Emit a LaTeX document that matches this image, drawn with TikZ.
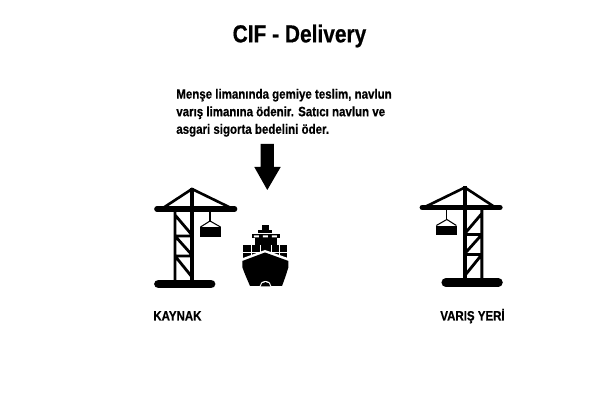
\documentclass[tikz,border=0pt]{standalone}
\usepackage{fontspec}
\setmainfont{Liberation Sans}[FakeStretch=0.85, BoldFeatures={FakeBold=0.6}]
\tikzset{
  mast/.style={line width=2.1pt},
  strut/.style={line width=1.6pt},
  stay/.style={line width=1.5pt},
  boom/.style={line width=3.2pt, line cap=round},
  foot/.style={line width=5pt, line cap=round},
  label/.style={inner sep=0pt, font=\bfseries\fontsize{7.7}{10}\selectfont}
}
\newcommand{\crane}{
  \draw[stay] (163,208)--(192,189)--(231,208);
  \draw[boom] (157,209)--(234.5,209);
  \draw[mast] (192,188)--(192,283);
  \draw[strut] (175,209)--(175,283)
       (175,236)--(192,236) (175,256)--(192,256)
       (175,215)--(192,235) (175,236)--(192,255) (175,256)--(192,277);
  \draw[line width=.6pt] (210,211)--(210,222);
  \draw[line width=.6pt] (200.5,227)--(210,221)--(220.5,227);
  \fill (200,227.5) rectangle (221,237);
  \draw[foot] (158.5,284)--(211,284);
}

\begin{document}
\begin{tikzpicture}[x=0.02cm, y=-0.02cm]
  \useasboundingbox (0,0) rectangle (600,401);
  \fill[white] (0,0) rectangle (600,401);

  \node[font=\bfseries\fontsize{14}{16}\selectfont, inner sep=0pt] (title) at (299.5,36) {CIF - Delivery};
  \node[label, anchor=north west, align=left] (note) at (176,88.5) {Menşe limanında gemiye teslim, navlun\\varış limanına ödenir. Satıcı navlun ve\\asgari sigorta bedelini öder.};

  \fill (260.7,144)--(274,144)--(274,167)--(280.7,167)--(267.3,190)--(254.3,167)--(260.7,167)--cycle;

  \crane
  \begin{scope}[xshift=13.14cm, xscale=-1, yshift=0.03cm]
    \crane
  \end{scope}

  % ship
  \fill (262.5,225)--(269,225)--(269,230)--(262.5,230)--cycle;
  \fill (258.5,230.5) rectangle (272,233);
  \fill (251.7,234) rectangle (280,238.5);
  \fill (255,238) rectangle (277,245);
  \fill (243.5,245) rectangle (287.5,258);
  \draw[white, line width=.4pt] (251.5,245)--(251.5,258) (260,245)--(260,258) (271,245)--(271,258) (279.5,245)--(279.5,258)
       (243.5,252)--(287.5,252);
  \fill[white] (254,235.5) rectangle (259,237.5) (263,235.5) rectangle (268,237.5) (272,235.5) rectangle (277,237.5);
  \fill[white] (243,258)--(265,250)--(288,258)--(288,262)--(243,262)--cycle;
  \fill (242.3,261)--(265,252.5)--(288.5,261)--(288.5,267) .. controls (286,275) and (284,281) .. (282,286)--(250,286) .. controls (248,281) and (245,275) .. (242.3,267)--cycle;
  \fill[white] (259.5,286.5) arc (180:360:6 and 5.5)--cycle;
  \fill (260.7,286.5) arc (180:360:4.8 and 4.4)--cycle;

  \node[label, anchor=base west] (source) at (153,320.5) {KAYNAK};
  \node[label, anchor=base west] (target) at (440,320.5) {VARIŞ YERİ};
\end{tikzpicture}
\end{document}
